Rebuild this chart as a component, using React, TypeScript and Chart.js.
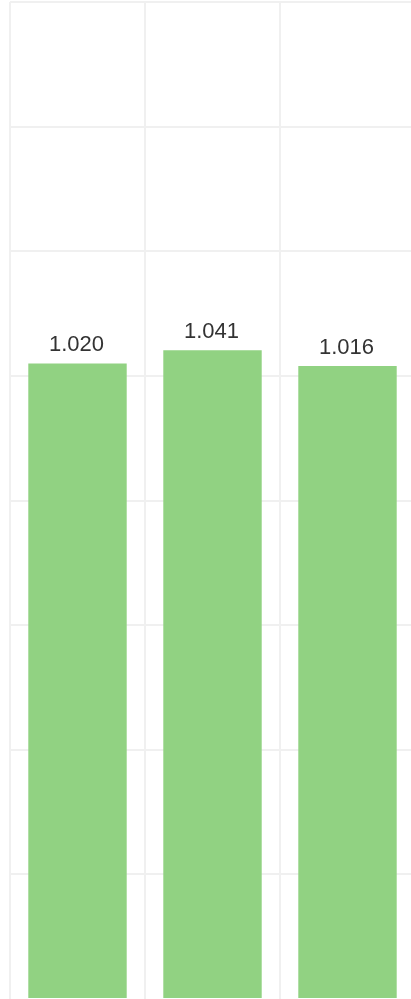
import React, { useEffect, useRef } from "react";
import { Chart, registerables } from "chart.js";

Chart.register(...registerables);

const categories = ["A", "B", "C"];
const values = [1.02, 1.041, 1.016];
const yMax = 1.6;
const yStep = 0.2;

const labelPlugin = {
  id: "barLabels",
  afterDatasetsDraw(chart: any) {
    const ctx = chart.ctx;
    const meta = chart.getDatasetMeta(0);
    ctx.save();
    ctx.font = '22px "Liberation Sans", Arial, sans-serif';
    ctx.fillStyle = "#333333";
    ctx.textAlign = "center";
    ctx.textBaseline = "alphabetic";
    meta.data.forEach((bar: any, i: number) => {
      ctx.fillText(values[i].toFixed(3), bar.x - 1, bar.y - 12);
    });
    ctx.restore();
  },
};

export default function App() {
  const ref = useRef<HTMLCanvasElement>(null);
  useEffect(() => {
    if (!ref.current) return;
    const chart = new Chart(ref.current, {
      type: "bar",
      data: {
        labels: categories,
        datasets: [
          {
            data: values,
            backgroundColor: "#91d282",
            borderWidth: 0,
            barPercentage: 0.9,
            categoryPercentage: 0.81,
          },
        ],
      },
      options: {
        responsive: false,
        animation: false,
        layout: { padding: { left: 10, top: 2, right: 0, bottom: 0 } },
        plugins: { legend: { display: false }, tooltip: { enabled: false } },
        scales: {
          x: {
            ticks: { display: false },
            grid: { color: "#f0f0f0", lineWidth: 2, drawTicks: false, offset: true },
            border: { display: false },
          },
          y: {
            min: 0,
            max: yMax,
            ticks: { display: false, stepSize: yStep },
            grid: {
              color: (c: any) => (c.tick && c.tick.value === 0 ? "rgba(0,0,0,0)" : "#f0f0f0"),
              lineWidth: 2,
              drawTicks: false,
            },
            border: { display: false },
          },
        },
      },
      plugins: [labelPlugin],
    });
    return () => chart.destroy();
  }, []);
  return (
    <div
      style={{
        position: "fixed",
        left: 0,
        top: 0,
        width: 411,
        height: 999,
        overflow: "hidden",
        background: "#ffffff",
      }}
    >
      <canvas ref={ref} width={415} height={999} style={{ display: "block" }} />
    </div>
  );
}
